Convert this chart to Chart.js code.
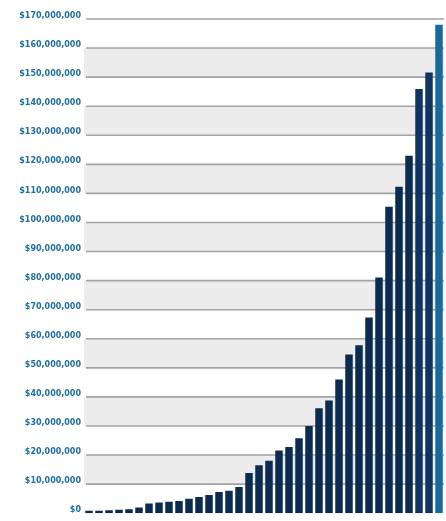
<!DOCTYPE html>
<html>
<head>
<meta charset="utf-8">
<script src="https://cdn.jsdelivr.net/npm/chart.js@4/dist/chart.umd.min.js"></script>
<style>
  html, body { margin: 0; padding: 0; background: #ffffff; }
  #wrap { width: 446px; height: 521px; }
</style>
</head>
<body>
<div id="wrap"><canvas id="myChart"></canvas></div>
<script>
// values, in millions of dollars
const labels = [];
for (let i = 1; i <= 36; i++) labels.push("" + i);
const amounts = [0.8, 0.8, 1.0, 1.2, 1.4, 2.0, 3.3, 3.7, 3.9, 4.2, 5.0, 5.6,
    6.3, 7.3, 7.7, 9.0, 13.8, 16.5, 18.0, 21.6, 22.8, 25.8, 30.0, 36.1,
    38.8, 46.0, 54.6, 57.8, 67.3, 81.1, 105.4, 112.3, 123.0, 145.9, 151.6, 168.0];
// shaded bands between these values (millions)
const bandStarts = [10, 30, 50, 70, 90, 110, 130, 150];
const bandSize = 10;

const values = amounts.map(v => v * 1000000);

const bandPlugin = {
    id: 'bands',
    beforeDatasetsDraw(chart) {
        const ctx = chart.ctx;
        const y = chart.scales.y;
        const area = chart.chartArea;
        ctx.save();
        ctx.fillStyle = '#ececec';
        bandStarts.forEach(function (b) {
            const top = y.getPixelForValue((b + bandSize) * 1000000);
            const bottom = y.getPixelForValue(b * 1000000);
            ctx.fillRect(area.left, top, area.right - area.left, bottom - top);
        });
        // grid lines over the bands, under the bars
        ctx.strokeStyle = '#a3a3a3';
        ctx.lineWidth = 1.6;
        y.ticks.forEach(function (t) {
            if (t.value === 0) return;
            const py = y.getPixelForValue(t.value);
            ctx.beginPath();
            ctx.moveTo(area.left + 2, py);
            ctx.lineTo(area.right, py);
            ctx.stroke();
        });
        ctx.restore();
    }
};

window.addEventListener('load', function () {
    const ctx = document.getElementById('myChart').getContext('2d');
    new Chart(ctx, {
        type: 'bar',
        data: {
            labels: labels,
            datasets: [{
                data: values,
                backgroundColor: function (c) {
                    if (c.dataIndex === values.length - 1) return '#176a9b';
                    if (c.dataIndex >= values.length - 3) return '#0f3462';
                    return '#0c2b50';
                },
                borderWidth: 0,
                barPercentage: 0.75,
                categoryPercentage: 1.0
            }]
        },
        plugins: [bandPlugin],
        options: {
            responsive: true,
            maintainAspectRatio: false,
            animation: false,
            layout: { padding: { top: 19, bottom: 7, right: 2, left: 0 } },
            plugins: {
                legend: { display: false },
                tooltip: { enabled: false }
            },
            scales: {
                x: { display: false },
                y: {
                    min: 0,
                    max: 170000000,
                    afterFit: function (s) { s.width = 84; },
                    border: { display: false },
                    grid: { display: false, drawTicks: false },
                    ticks: {
                        stepSize: 10000000,
                        padding: 3,
                        labelOffset: -3,
                        color: '#1f6f9f',
                        font: { family: 'DejaVu Sans', size: 8, weight: 'bold' },
                        callback: function (v) { return '$' + v.toLocaleString('en-US'); }
                    }
                }
            }
        }
    });
});
</script>
</body>
</html>
